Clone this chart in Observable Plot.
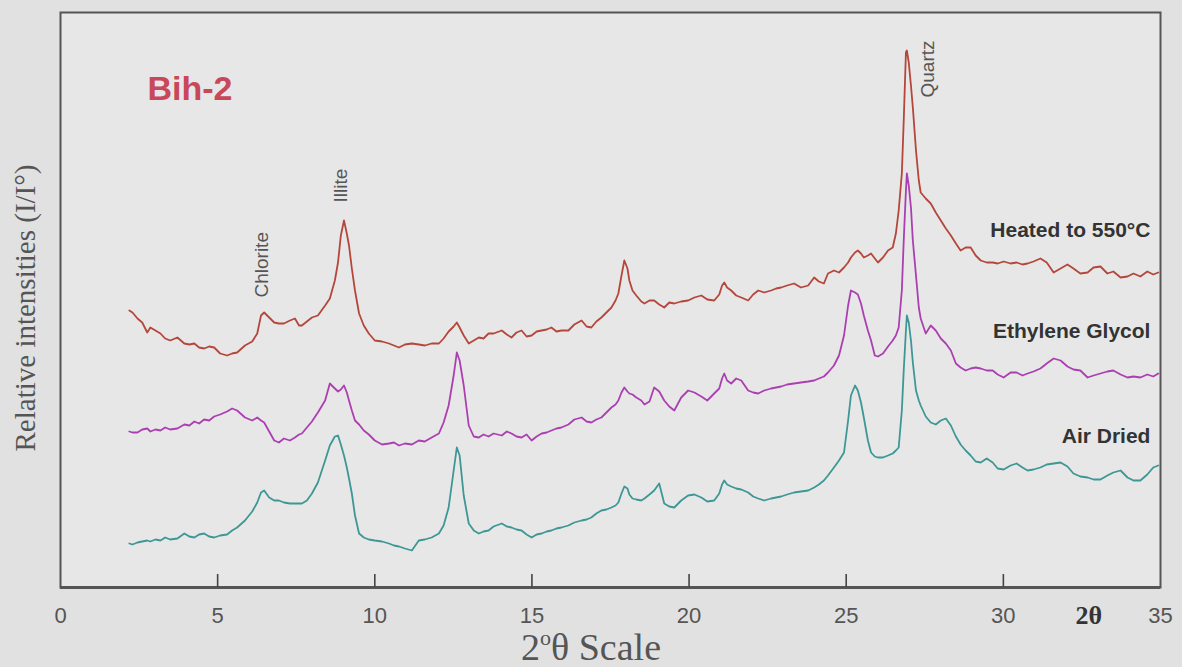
<!DOCTYPE html>
<html><head><meta charset="utf-8">
<script src="https://cdn.jsdelivr.net/npm/d3@7"></script>
<script src="https://cdn.jsdelivr.net/npm/@observablehq/plot@0.6"></script>
<style>
html,body{margin:0;padding:0;background:#e1e1e1;}
#chart{width:1182px;height:667px;}
</style></head><body><div id="chart"></div>
<script>
// 2θ positions (degrees)
const twoTheta = [2.19,2.29,2.45,2.60,2.76,2.86,3.02,3.18,3.33,3.49,
3.72,3.94,4.10,4.26,4.41,4.57,4.73,4.89,5.08,5.30,
5.46,5.62,5.87,6.10,6.26,6.38,6.48,6.64,6.80,6.95,
7.11,7.30,7.46,7.59,7.68,7.84,8.00,8.19,8.42,8.57,
8.73,8.83,8.92,9.02,9.11,9.18,9.27,9.37,9.50,9.65,
9.81,10.00,10.23,10.45,10.61,10.77,10.96,11.18,11.40,11.59,
11.81,12.04,12.19,12.35,12.51,12.61,12.70,12.83,12.99,13.15,
13.31,13.46,13.62,13.78,14.04,14.20,14.35,14.51,14.67,14.83,
14.99,15.15,15.31,15.47,15.62,15.78,15.94,16.16,16.35,16.58,
16.74,16.89,17.05,17.21,17.37,17.53,17.66,17.75,17.85,17.94,
18.04,18.10,18.20,18.32,18.48,18.58,18.74,18.89,19.05,19.21,
19.37,19.53,19.75,19.97,20.17,20.39,20.58,20.80,20.96,21.05,
21.12,21.21,21.34,21.50,21.66,21.88,22.04,22.20,22.39,22.61,
22.77,22.93,23.12,23.34,23.56,23.79,23.98,24.13,24.29,24.42,
24.61,24.77,24.93,25.06,25.15,25.28,25.37,25.47,25.56,25.69,
25.79,25.91,26.01,26.17,26.33,26.48,26.58,26.67,26.77,26.83,
26.90,26.93,26.99,27.06,27.12,27.22,27.31,27.37,27.53,27.69,
27.85,28.01,28.17,28.33,28.49,28.64,28.80,28.96,29.12,29.28,
29.47,29.66,29.82,30.01,30.23,30.42,30.61,30.77,30.96,31.18,
31.38,31.60,31.82,32.04,32.23,32.45,32.68,32.87,33.09,33.31,
33.50,33.73,33.95,34.14,34.36,34.58,34.77,34.93];

// Relative intensities (stacked traces, arbitrary units)
const heated = [277,275,269,265,255,260,257,254,249,247,
250,244,243,244,240,239,241,240,234,232,
234,235,242,246,254,272,275,270,265,264,
264,267,269,262,262,266,270,272,282,289,
307,325,352,367,354,342,319,297,274,262,
254,247,246,244,242,240,243,244,243,242,
244,244,249,256,261,265,260,252,244,247,
250,249,254,254,257,253,250,255,257,251,
252,256,257,258,260,256,257,257,263,267,
261,260,266,270,275,280,287,294,312,327,
319,307,297,292,286,284,287,287,283,280,
285,284,286,287,290,292,288,287,293,302,
305,300,297,292,290,287,293,297,295,297,
299,300,302,304,300,302,310,306,304,314,
317,315,320,325,330,335,337,334,330,332,
334,329,325,330,337,340,354,377,414,467,
535,537,525,502,480,437,407,395,389,384,
375,367,359,352,344,337,340,340,332,327,
325,325,324,326,324,325,323,324,326,329,
325,315,319,323,319,314,315,320,321,314,
316,310,311,314,311,316,313,315];

const glycol = [156,155,155,158,159,156,158,157,160,158,
159,163,162,166,164,168,167,171,173,176,
179,177,170,167,170,167,165,156,147,145,
149,147,150,153,154,160,166,175,187,204,
199,196,198,202,195,187,177,167,163,157,
153,147,143,144,145,142,144,143,147,146,
150,154,165,182,212,235,227,202,162,151,
150,153,151,154,152,156,154,151,150,153,
147,151,154,155,157,159,160,163,168,170,
166,165,168,170,175,180,183,187,195,200,
196,194,193,190,187,183,186,200,196,187,
181,177,190,197,195,191,187,194,199,209,
214,207,204,209,207,197,195,194,197,199,
200,201,203,204,205,206,207,209,211,215,
222,232,252,282,297,295,293,284,272,257,
247,232,231,234,241,247,252,260,297,347,
397,414,402,380,347,312,280,269,254,262,
257,249,244,237,224,220,217,219,220,219,
217,217,213,210,215,215,212,214,216,219,
224,229,227,221,218,217,210,212,214,216,
217,213,210,211,210,213,211,214];

const airDried = [44,43,45,46,47,46,48,47,50,48,
49,54,51,50,53,54,51,50,52,53,
57,60,67,76,85,95,97,90,87,87,
85,84,84,84,84,87,94,105,127,142,
151,152,143,132,120,109,94,72,54,50,
48,47,46,44,42,41,39,37,47,48,
50,54,62,80,117,140,132,92,64,57,
54,56,57,61,64,61,60,58,57,53,
50,53,54,56,57,59,60,62,65,67,
68,70,74,77,78,80,82,85,94,101,
99,93,89,88,87,89,93,97,104,84,
81,80,87,92,93,90,86,87,94,103,
107,103,101,99,98,95,91,89,87,89,
90,91,93,95,96,97,100,103,107,112,
120,127,135,167,192,202,197,185,170,147,
135,131,130,130,132,134,137,140,177,217,
257,272,265,247,225,197,187,182,171,165,
163,167,169,162,151,143,137,132,126,125,
129,125,119,118,122,124,120,117,118,120,
123,124,125,121,114,111,110,108,108,112,
115,117,110,107,107,113,120,122];

const seriesNames = ["Heated to 550°C", "Ethylene Glycol", "Air Dried"];
const seriesColors = ["#b4463b", "#ab3fb1", "#3d9795"];
const xTickLabels = [0, 5, 10, 15, 20, 25, 30, 35];
const innerTicks = [5, 10, 15, 20, 25, 30];
const peakNames = ["Chlorite", "Illite", "Quartz"];
const peakLabelX = [6.40, 8.91, 27.59];
const peakLabelY = [290, 385, 490];
const seriesLabelX = [34.68, 34.68, 34.68];
const seriesLabelY = [357, 256, 151];

if (heated.length !== twoTheta.length || glycol.length !== twoTheta.length || airDried.length !== twoTheta.length) {
  throw new Error("length mismatch " + twoTheta.length + " " + heated.length + " " + glycol.length + " " + airDried.length);
}

const rows = [];
[heated, glycol, airDried].forEach((arr, s) =>
  arr.forEach((v, i) => rows.push({series: seriesNames[s], x: twoTheta[i], y: v})));

const peaks = peakNames.map((label, i) => ({label, x: peakLabelX[i], y: peakLabelY[i]}));
const seriesLabels = seriesNames.map((label, i) => ({label, x: seriesLabelX[i], y: seriesLabelY[i]}));

const plot = Plot.plot({
  width: 1182,
  height: 667,
  marginLeft: 60,
  marginRight: 22,
  marginTop: 12,
  marginBottom: 80,
  x: {domain: [0, 35], axis: null},
  y: {domain: [0, 575], axis: null},
  color: {domain: seriesNames, range: seriesColors},
  style: {background: "transparent", fontFamily: "'Liberation Sans', Arial, sans-serif", fontSize: "22px", color: "#555"},
  marks: [
    Plot.frame({fill: "#e7e7e7", stroke: null}),
    Plot.line(rows, {x: "x", y: "y", z: "series", stroke: "series", strokeWidth: 1.8}),
    Plot.frame({stroke: "#555", strokeWidth: 2}),
    Plot.ruleY([0], {stroke: "#555", strokeWidth: 3}),
    Plot.ruleX(innerTicks, {y1: 0, y2: 13, stroke: "#444", strokeWidth: 1.6}),
    Plot.axisX(xTickLabels, {tickSize: 0, tickPadding: 20, fontSize: 22, label: null, color: "#555"}),
    Plot.text(peaks, {x: "x", y: "y", text: "label", rotate: -90, textAnchor: "start", lineAnchor: "middle", fontSize: 19, fill: "#555"}),
    Plot.text(seriesLabels, {x: "x", y: "y", text: "label", textAnchor: "end", lineAnchor: "middle", fontSize: 21, fontWeight: "bold", fill: "#333"}),
    Plot.text(["Bih-2"], {frameAnchor: "top-left", dx: 87, dy: 77, textAnchor: "start", lineAnchor: "middle", fontSize: 34, fontWeight: "bold", fill: "#c8485a"}),
    Plot.text(["2θ"], {x: [32.72], y: [-28], textAnchor: "middle", lineAnchor: "middle", fontSize: 26, fontWeight: "bold", fill: "#333", fontFamily: "'Liberation Serif', 'Times New Roman', serif"}),
    Plot.text(["Relative intensities (I/I°)"], {frameAnchor: "left", dx: -35, dy: 8, rotate: -90, textAnchor: "middle", lineAnchor: "middle", fontSize: 29, fill: "#555", fontFamily: "'Liberation Serif', 'Times New Roman', serif"})
  ]
});

const svg = d3.select(plot);
const t = svg.append("text")
  .attr("x", 591).attr("y", 660)
  .attr("text-anchor", "middle")
  .attr("font-family", "'Liberation Serif', 'Times New Roman', serif")
  .attr("font-size", 38)
  .attr("fill", "#555");
t.append("tspan").text("2");
t.append("tspan").attr("dy", -15).attr("font-size", 22).text("o");
t.append("tspan").attr("dy", 15).text("θ Scale");

document.getElementById("chart").appendChild(plot);
</script>
</body></html>
